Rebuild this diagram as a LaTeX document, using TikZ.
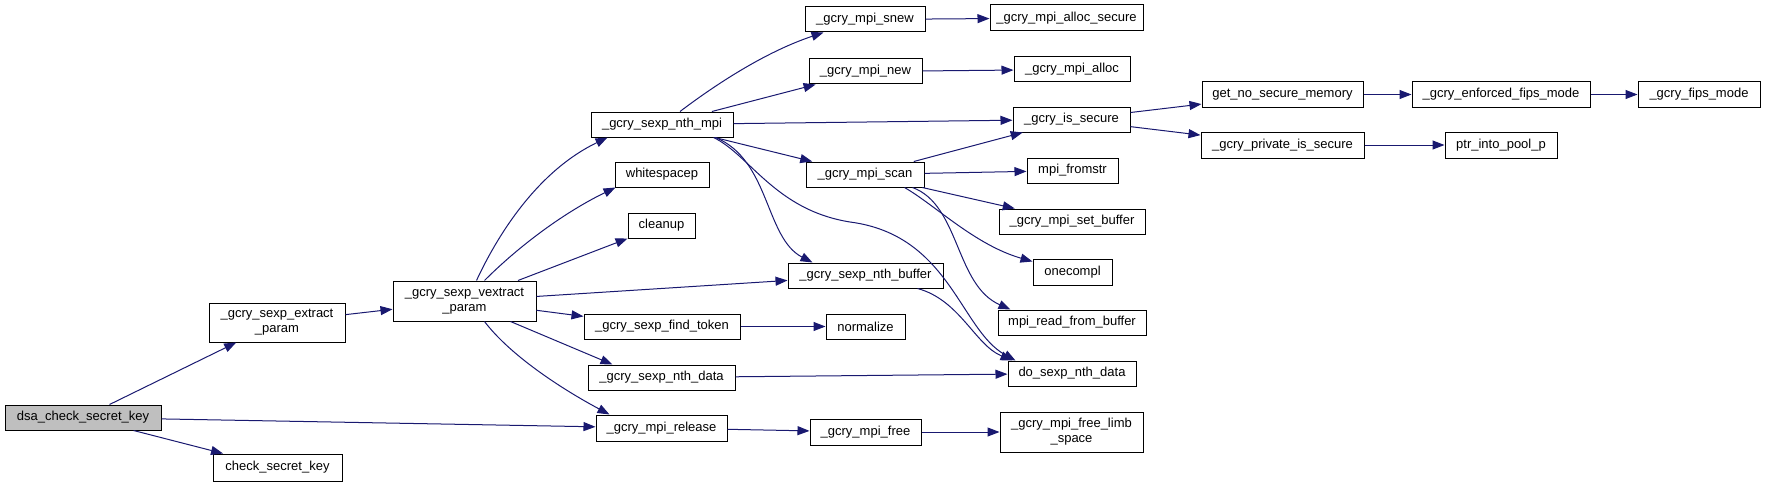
\documentclass[tikz,border=0pt]{standalone}
\usepackage{fontspec}
\setmainfont{Liberation Sans}
\usetikzlibrary{arrows.meta,calc}
\definecolor{edgeblue}{HTML}{191970}
\definecolor{rootgray}{HTML}{BFBFBF}

\begin{document}
\begin{tikzpicture}[x=1pt,y=-1pt,>={Triangle[length=12pt,width=9pt]},
  fn/.style={draw=black,line width=1pt,fill=white,inner sep=0pt,
    minimum height=25pt,align=center,font=\fontsize{13}{15}\selectfont},
  call/.style={->,draw=edgeblue,line width=1pt}]
  \useasboundingbox (0,0) rectangle (1765,487);
  % first column
  \node[fn,fill=rootgray,minimum width=156pt] (dsa) at (83,417.5) {dsa\_check\_secret\_key};
  \node[fn,minimum width=136pt,minimum height=39pt] (extract) at (277,322.5) {\_gcry\_sexp\_extract\\\_param};
  \node[fn,minimum width=129pt,minimum height=27pt] (check) at (277.5,467.5) {check\_secret\_key};
  \node[fn,minimum width=143pt,minimum height=40pt] (vextract) at (464.5,301) {\_gcry\_sexp\_vextract\\\_param};
  % callees of vextract
  \node[fn,minimum width=142pt] (nthmpi) at (662,124.5) {\_gcry\_sexp\_nth\_mpi};
  \node[fn,minimum width=94pt] (white) at (662,174.5) {whitespacep};
  \node[fn,minimum width=67pt] (cleanup) at (661.5,225.5) {cleanup};
  \node[fn,minimum width=156pt] (findtok) at (662,326.5) {\_gcry\_sexp\_find\_token};
  \node[fn,minimum width=147pt] (nthdata) at (661.5,377.5) {\_gcry\_sexp\_nth\_data};
  \node[fn,minimum width=131pt,minimum height=26pt] (release) at (661.5,428) {\_gcry\_mpi\_release};
  % next column
  \node[fn,minimum width=120pt] (snew) at (865,19.5) {\_gcry\_mpi\_snew};
  \node[fn,minimum width=113pt] (mpinew) at (865.5,71.5) {\_gcry\_mpi\_new};
  \node[fn,minimum width=118pt] (scan) at (865,174.5) {\_gcry\_mpi\_scan};
  \node[fn,minimum width=155pt] (nthbuf) at (865.5,275.5) {\_gcry\_sexp\_nth\_buffer};
  \node[fn,minimum width=79pt] (normalize) at (865.5,326.5) {normalize};
  \node[fn,minimum width=111pt,minimum height=26pt] (mpifree) at (865.5,432) {\_gcry\_mpi\_free};
  % leaves
  \node[fn,minimum width=153pt,minimum height=26pt] (allocsec) at (1066.5,18) {\_gcry\_mpi\_alloc\_secure};
  \node[fn,minimum width=116pt] (alloc) at (1072,69.5) {\_gcry\_mpi\_alloc};
  \node[fn,minimum width=117pt] (issecure) at (1071.5,119.5) {\_gcry\_is\_secure};
  \node[fn,minimum width=91pt] (fromstr) at (1072.5,170.5) {mpi\_fromstr};
  \node[fn,minimum width=146pt] (setbuf) at (1072,221.5) {\_gcry\_mpi\_set\_buffer};
  \node[fn,minimum width=79pt,minimum height=26pt] (onecompl) at (1072.5,272) {onecompl};
  \node[fn,minimum width=148pt] (readbuf) at (1072,322.5) {mpi\_read\_from\_buffer};
  \node[fn,minimum width=128pt] (dosexp) at (1072,373.5) {do\_sexp\_nth\_data};
  \node[fn,minimum width=143pt,minimum height=40pt] (limb) at (1071.5,432) {\_gcry\_mpi\_free\_limb\\\_space};
  \node[fn,minimum width=161pt] (nosecmem) at (1282.5,94.5) {get\_no\_secure\_memory};
  \node[fn,minimum width=163pt,minimum height=26pt] (privsec) at (1282.5,145) {\_gcry\_private\_is\_secure};
  \node[fn,minimum width=178pt] (enforced) at (1501,94.5) {\_gcry\_enforced\_fips\_mode};
  \node[fn,minimum width=112pt,minimum height=26pt] (pool) at (1501,145) {ptr\_into\_pool\_p};
  \node[fn,minimum width=122pt] (fips) at (1699,94.5) {\_gcry\_fips\_mode};

  % calls
  \draw[call] (dsa) -- (extract);
  \draw[call] (dsa) -- (release);
  \draw[call] (dsa) -- (check);
  \draw[call] (extract) -- (vextract);
  \draw[call] ($(vextract.north)+(12,0)$) .. controls (500,230) and (540,170) .. ($(nthmpi.south west)+(17,0)$);
  \draw[call] ($(vextract.north)+(20,0)$) .. controls (520,245) and (565,212) .. ($(white.south west)+(1,0)$);
  \draw[call] (vextract) -- (cleanup);
  \draw[call] (vextract) -- (nthbuf);
  \draw[call] (vextract) -- (findtok);
  \draw[call] ($(vextract.south)+(46,0)$) -- ($(nthdata.north)+(-49,0)$);
  \draw[call] ($(vextract.south)+(20,0)$) .. controls (510,355) and (560,388) .. ($(release.north west)+(14,0)$);
  \draw[call] ($(nthmpi.north)+(18,0)$) .. controls (715,85) and (765,52) .. ($(snew.south west)+(19,0)$);
  \draw[call] (nthmpi) -- (mpinew);
  \draw[call] (nthmpi) -- (issecure);
  \draw[call] (nthmpi) -- (scan);
  \draw[call] ($(nthmpi.south east)+(-18,0)$) .. controls (770,160) and (765,238) .. ($(nthbuf.north west)+(25,0)$);
  \draw[call] ($(nthmpi.south east)+(-20,0)$) .. controls (750,155) and (775,210) .. (850,222)
    .. controls (950,235) and (960,330) .. ($(dosexp.north west)+(8,0)$);
  \draw[call] (snew) -- (allocsec);
  \draw[call] (mpinew) -- (alloc);
  \draw[call] (scan) -- (issecure);
  \draw[call] (scan) -- (fromstr);
  \draw[call] (scan) -- (setbuf);
  \draw[call] ($(scan.south east)+(-20,0)$) .. controls (935,205) and (975,245) .. ($(onecompl.north west)+(0,3)$);
  \draw[call] ($(scan.south east)+(-12,0)$) .. controls (960,205) and (955,285) .. ($(readbuf.north west)+(13,0)$);
  \draw[call] ($(nthbuf.south east)+(-26,0)$) .. controls (960,300) and (975,345) .. ($(dosexp.north west)+(5,0)$);
  \draw[call] (findtok) -- (normalize);
  \draw[call] (nthdata) -- (dosexp);
  \draw[call] (release) -- (mpifree);
  \draw[call] (mpifree) -- (limb);
  \draw[call] (issecure) -- (nosecmem);
  \draw[call] (issecure) -- (privsec);
  \draw[call] (nosecmem) -- (enforced);
  \draw[call] (enforced) -- (fips);
  \draw[call] (privsec) -- (pool);
\end{tikzpicture}
\end{document}
